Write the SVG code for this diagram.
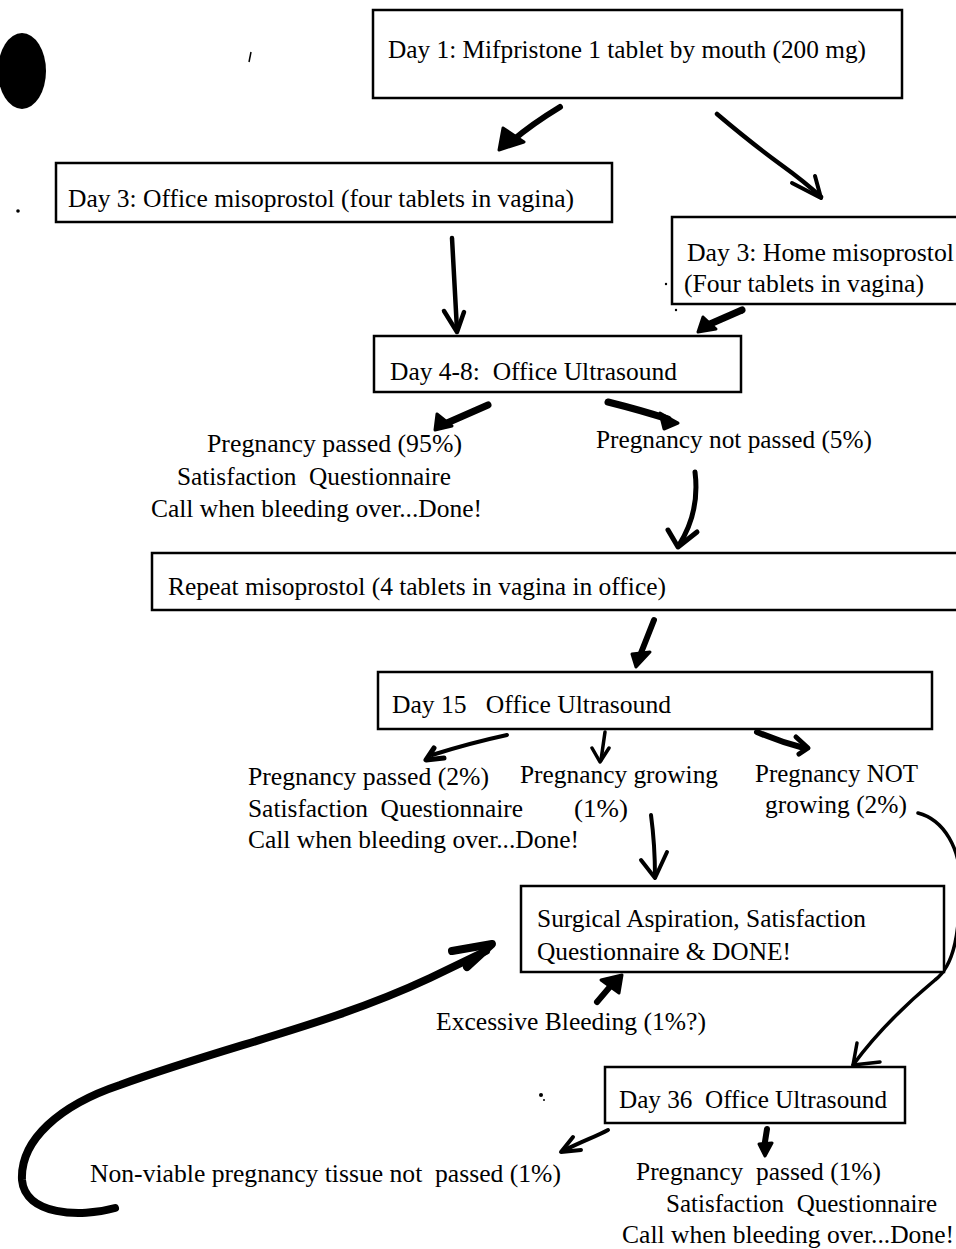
<svg xmlns="http://www.w3.org/2000/svg" width="956" height="1249" viewBox="0 0 956 1249">
<style>
  text { font-family: "Liberation Serif", "Times New Roman", serif; font-size: 25px; fill: #000; }
  .box { fill: #fff; stroke: #000; stroke-width: 2.5; }
  .ln { fill: none; stroke: #000; stroke-linecap: round; stroke-linejoin: round; }
  .hd { fill: #000; stroke: #000; stroke-linejoin: round; stroke-width: 3; }
</style>
<rect x="0" y="0" width="956" height="1249" fill="#fff"/>

<!-- scan artifacts -->
<g id="artifacts">
  <ellipse cx="22" cy="71" rx="24" ry="38" fill="#000"/>
  <path d="M251,52 L249,62" stroke="#000" stroke-width="1.5" fill="none"/>
  <circle cx="18" cy="211" r="1.8" fill="#000"/>
  <circle cx="541" cy="1095" r="2" fill="#000"/>
  <circle cx="544" cy="1100" r="1" fill="#000"/>
  <circle cx="680" cy="281" r="2" fill="#000"/>
  <circle cx="666" cy="284" r="1.2" fill="#000"/>
  <circle cx="676" cy="310" r="1.2" fill="#000"/>
</g>

<g id="connectors">
  <!-- Day1 -> Office -->
  <path class="ln" stroke-width="6" d="M560,107 Q532,124 512,141"/>
  <path class="hd" d="M499,150 L503,128 L524,142 Z"/>
  <!-- Day1 -> Home -->
  <path class="ln" stroke-width="4.5" d="M717,114 Q750,142 780,164 Q805,182 821,197"/>
  <path class="ln" stroke-width="4" d="M792,183 L821,198 L815,176"/>
  <!-- Office -> Day4-8 -->
  <path class="ln" stroke-width="4.5" d="M452,238 Q455,290 457,330"/>
  <path class="ln" stroke-width="4.5" d="M444,311 L457,332 L464,312"/>
  <!-- Home -> Day4-8 -->
  <path class="ln" stroke-width="7" d="M742,310 L710,324"/>
  <path class="hd" d="M698,332 L703,317 L716,329 Z"/>
  <!-- Day4-8 -> passed -->
  <path class="ln" stroke-width="7" d="M488,405 L447,423"/>
  <path class="hd" d="M435,430 L437,414 L452,426 Z"/>
  <!-- Day4-8 -> not passed -->
  <path class="ln" stroke-width="7" d="M608,402 Q640,410 668,419"/>
  <path class="hd" d="M678,423 L660,413 L664,429 Z"/>
  <!-- not passed -> Repeat -->
  <path class="ln" stroke-width="5" d="M695,472 Q700,512 679,545"/>
  <path class="ln" stroke-width="5" d="M668,530 L678,547 L697,532"/>
  <!-- Repeat -> Day15 -->
  <path class="ln" stroke-width="6" d="M654,620 L639,658"/>
  <path class="hd" d="M632,654 L636,667 L650,652 Z"/>
  <!-- Day15 -> passed 2% -->
  <path class="ln" stroke-width="4" d="M507,735 Q470,743 432,755"/>
  <path class="ln" stroke-width="5" d="M434,748 L426,760 L444,758"/>
  <!-- Day15 -> growing -->
  <path class="ln" stroke-width="3.5" d="M605,732 L601,760"/>
  <path class="ln" stroke-width="3.5" d="M592,748 L600,762 L609,748"/>
  <!-- Day15 -> NOT growing -->
  <path class="ln" stroke-width="6" d="M757,732 Q780,742 804,748"/>
  <path class="ln" stroke-width="5" d="M796,737 L808,748 L799,754"/>
  <!-- growing -> Surgical -->
  <path class="ln" stroke-width="4" d="M651,815 Q655,845 655,877"/>
  <path class="ln" stroke-width="4" d="M641,860 L655,878 L667,852"/>
  <!-- NOT growing -> Day36 -->
  <path class="ln" stroke-width="3.5" d="M918,813 C945,820 960,850 960,880 C960,930 955,965 935,980 C905,1005 875,1035 853,1065"/>
  <path class="ln" stroke-width="3.5" d="M857,1043 L853,1065 L880,1062"/>
  <!-- Excessive -> Surgical -->
  <path class="ln" stroke-width="6" d="M597,1002 L614,982"/>
  <path class="hd" d="M622,975 L601,980 L619,993 Z"/>
  <!-- Non-viable -> Surgical -->
  <path class="ln" stroke-width="8" d="M115,1208 C80,1218 25,1215 22,1180 C20,1140 60,1105 120,1085 C230,1045 330,1025 430,978 L486,951"/>
  <path class="ln" stroke-width="8" d="M452,951 L492,944 L467,967"/>
  <!-- Day36 -> Non-viable -->
  <path class="ln" stroke-width="4" d="M608,1130 C595,1137 585,1140 565,1150"/>
  <path class="ln" stroke-width="4" d="M573,1137 L561,1152 L581,1150"/>
  <!-- Day36 -> passed 1% -->
  <path class="ln" stroke-width="6" d="M767,1129 L764,1148"/>
  <path class="hd" d="M759,1144 L765,1156 L772,1143 Z"/>
</g>

<g id="n-day1">
  <rect class="box" x="373" y="10" width="529" height="88"/>
  <text x="388" y="58" textLength="478" lengthAdjust="spacingAndGlyphs">Day 1: Mifpristone 1 tablet by mouth (200 mg)</text>
</g>
<g id="n-office">
  <rect class="box" x="56" y="163" width="556" height="59"/>
  <text x="68" y="207" textLength="506" lengthAdjust="spacingAndGlyphs">Day 3: Office misoprostol (four tablets in vagina)</text>
</g>
<g id="n-home">
  <rect class="box" x="672" y="217" width="300" height="87"/>
  <text x="687" y="261" textLength="267" lengthAdjust="spacingAndGlyphs">Day 3: Home misoprostol</text>
  <text x="684" y="292" textLength="240" lengthAdjust="spacingAndGlyphs">(Four tablets in vagina)</text>
</g>
<g id="n-day48">
  <rect class="box" x="374" y="336" width="367" height="56"/>
  <text x="390" y="380" xml:space="preserve" textLength="287" lengthAdjust="spacingAndGlyphs">Day 4-8:  Office Ultrasound</text>
</g>
<g id="n-passed95">
  <text x="207" y="452" textLength="255" lengthAdjust="spacingAndGlyphs">Pregnancy passed (95%)</text>
  <text x="177" y="485" xml:space="preserve" textLength="274" lengthAdjust="spacingAndGlyphs">Satisfaction  Questionnaire</text>
  <text x="151" y="517" textLength="331" lengthAdjust="spacingAndGlyphs">Call when bleeding over...Done!</text>
</g>
<g id="n-notpassed">
  <text x="596" y="448" textLength="276" lengthAdjust="spacingAndGlyphs">Pregnancy not passed (5%)</text>
</g>
<g id="n-repeat">
  <rect class="box" x="152" y="553" width="820" height="57"/>
  <text x="168" y="595" textLength="498" lengthAdjust="spacingAndGlyphs">Repeat misoprostol (4 tablets in vagina in office)</text>
</g>
<g id="n-day15">
  <rect class="box" x="378" y="672" width="554" height="57"/>
  <text x="392" y="713" xml:space="preserve" textLength="279" lengthAdjust="spacingAndGlyphs">Day 15   Office Ultrasound</text>
</g>
<g id="n-passed2">
  <text x="248" y="785" textLength="241" lengthAdjust="spacingAndGlyphs">Pregnancy passed (2%)</text>
  <text x="248" y="817" xml:space="preserve" textLength="275" lengthAdjust="spacingAndGlyphs">Satisfaction  Questionnaire</text>
  <text x="248" y="848" textLength="331" lengthAdjust="spacingAndGlyphs">Call when bleeding over...Done!</text>
</g>
<g id="n-growing">
  <text x="520" y="783" textLength="198" lengthAdjust="spacingAndGlyphs">Pregnancy growing</text>
  <text x="574" y="817" textLength="54" lengthAdjust="spacingAndGlyphs">(1%)</text>
</g>
<g id="n-notgrowing">
  <text x="755" y="782" textLength="163" lengthAdjust="spacingAndGlyphs">Pregnancy NOT</text>
  <text x="765" y="813" textLength="142" lengthAdjust="spacingAndGlyphs">growing (2%)</text>
</g>
<g id="n-surgical">
  <rect class="box" x="521" y="886" width="423" height="86"/>
  <text x="537" y="927" textLength="329" lengthAdjust="spacingAndGlyphs">Surgical Aspiration, Satisfaction</text>
  <text x="537" y="960" textLength="254" lengthAdjust="spacingAndGlyphs">Questionnaire &amp; DONE!</text>
</g>
<g id="n-excessive">
  <text x="436" y="1030" textLength="270" lengthAdjust="spacingAndGlyphs">Excessive Bleeding (1%?)</text>
</g>
<g id="n-day36">
  <rect class="box" x="605" y="1067" width="300" height="56"/>
  <text x="619" y="1108" xml:space="preserve" textLength="268" lengthAdjust="spacingAndGlyphs">Day 36  Office Ultrasound</text>
</g>
<g id="n-nonviable">
  <text x="90" y="1182" xml:space="preserve" textLength="471" lengthAdjust="spacingAndGlyphs">Non-viable pregnancy tissue not  passed (1%)</text>
</g>
<g id="n-passed1">
  <text x="636" y="1180" xml:space="preserve" textLength="245" lengthAdjust="spacingAndGlyphs">Pregnancy  passed (1%)</text>
  <text x="666" y="1212" xml:space="preserve" textLength="271" lengthAdjust="spacingAndGlyphs">Satisfaction  Questionnaire</text>
  <text x="622" y="1243" textLength="332" lengthAdjust="spacingAndGlyphs">Call when bleeding over...Done!</text>
</g>
</svg>
